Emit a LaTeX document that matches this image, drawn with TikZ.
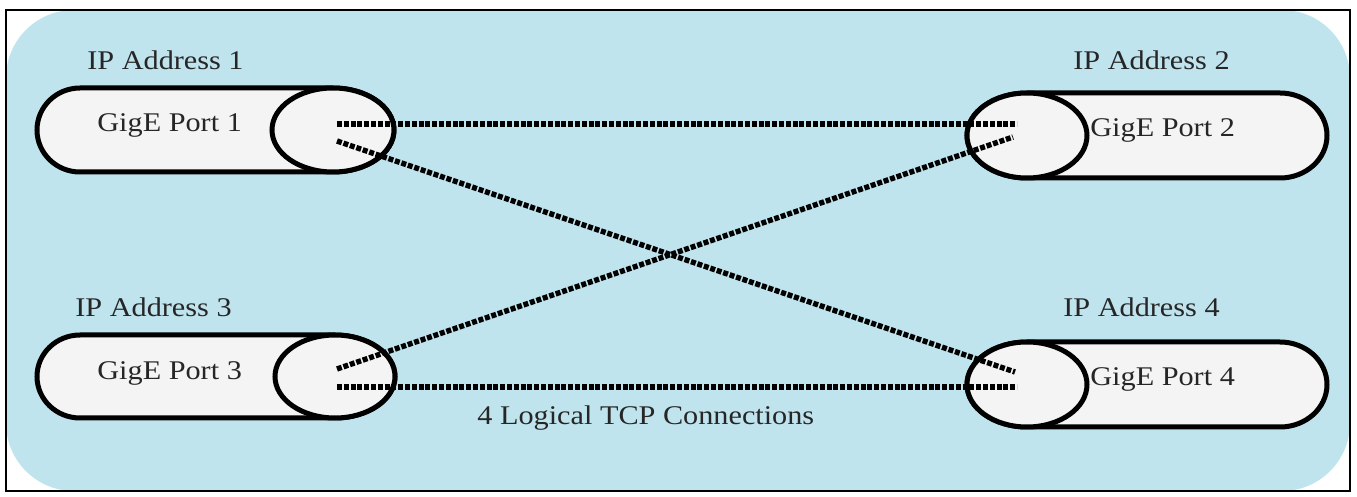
\documentclass[tikz,border=0pt]{standalone}
\usepackage{fontspec}
\setmainfont{Liberation Serif}
\definecolor{bgblue}{RGB}{191,228,237}
\definecolor{portfill}{RGB}{244,244,244}
\tikzset{
  lbl/.style={anchor=base west, inner sep=0pt, font=\fontsize{13.5}{16}\selectfont, text=black!85},
  capsule/.style={draw=black, line width=2.5pt, fill=portfill},
  link/.style={draw=black, line width=2.7pt, dash pattern=on 2.5pt off 0.9pt},
}
\newcommand{\wide}[1]{\scalebox{1.12}[1]{#1}}
\begin{document}
\begin{tikzpicture}[x=0.5pt,y=-0.5pt]
\useasboundingbox (0,0) rectangle (1357,497);
% background
\fill[white] (0,0) rectangle (1357,497);
\fill[bgblue, rounded corners=34pt] (6,10) rectangle (1350,491);
\draw[line width=0.8pt] (6,10) rectangle (1350,491);

% Port 1 (left type)
\path[capsule] (333,88) -- (80,88) arc[start angle=90,end angle=270,x radius=21.5pt,y radius=21pt]
  -- (333,172) arc[start angle=-90,end angle=90,x radius=30.5pt,y radius=21pt] -- cycle;
\draw[capsule] (333,130) ellipse[x radius=30.5pt,y radius=21pt];
% Port 3
\path[capsule] (335,335) -- (80,335) arc[start angle=90,end angle=270,x radius=21.5pt,y radius=20.75pt]
  -- (335,418) arc[start angle=-90,end angle=90,x radius=30pt,y radius=20.75pt] -- cycle;
\draw[capsule] (335,376.5) ellipse[x radius=30pt,y radius=20.75pt];
% Port 2 (right type)
\path[capsule] (1027,93) -- (1280,93) arc[start angle=90,end angle=-90,x radius=23.5pt,y radius=21.25pt]
  -- (1027,178) arc[start angle=270,end angle=90,x radius=30pt,y radius=21.25pt] -- cycle;
\draw[capsule] (1027,135.5) ellipse[x radius=30pt,y radius=21.25pt];
% Port 4
\path[capsule] (1027,342) -- (1280,342) arc[start angle=90,end angle=-90,x radius=23.5pt,y radius=21.25pt]
  -- (1027,427) arc[start angle=270,end angle=90,x radius=30pt,y radius=21.25pt] -- cycle;
\draw[capsule] (1027,384.5) ellipse[x radius=30pt,y radius=21.25pt];

% labels
\node[lbl] (ip1) at (87,70) {\wide{IP Address 1}};
\node[lbl] (gp1) at (97,132) {\wide{GigE Port 1}};
\node[lbl] (ip2) at (1073,70) {\wide{IP Address 2}};
\node[lbl] (gp2) at (1090,137) {\wide{GigE Port 2}};
\node[lbl] (ip3) at (75,317) {\wide{IP Address 3}};
\node[lbl] (gp3) at (97,380) {\wide{GigE Port 3}};
\node[lbl] (ip4) at (1063,317) {\wide{IP Address 4}};
\node[lbl] (gp4) at (1090,386) {\wide{GigE Port 4}};
\node[lbl] (tcp) at (477,425) {\wide{4 Logical TCP Connections}};

% connector end points
\coordinate (a1) at (337,124);
\coordinate (d1) at (337,141);
\coordinate (a2) at (1017,124);
\coordinate (d2) at (1013,137);
\coordinate (d3) at (337,369);
\coordinate (a3) at (337,387);
\coordinate (d4) at (1015,372);
\coordinate (a4) at (1017,387);

\draw[link] (a1) -- (a2);
\draw[link] (d1) -- (d4);
\draw[link] (d3) -- (d2);
\draw[link] (a3) -- (a4);
\end{tikzpicture}
\end{document}
